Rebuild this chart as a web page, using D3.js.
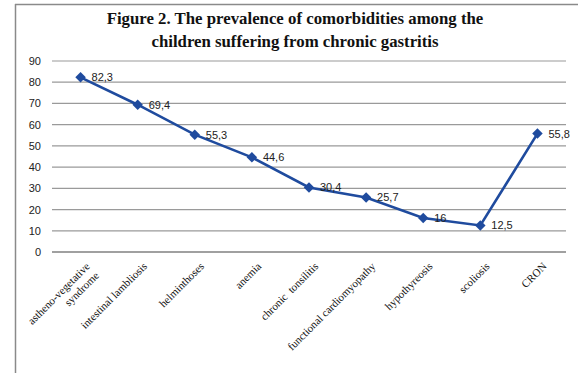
<!DOCTYPE html>
<html>
<head>
<meta charset="utf-8">
<script src="https://cdn.jsdelivr.net/npm/d3@7"></script>
<style>
  body { margin: 0; background: #fff; }
  svg { display: block; }
</style>
</head>
<body>
<div id="chart"></div>
<script>
// chart data
const categories = [
  ["astheno-vegetative", "syndrome"],
  ["intestinal lambliosis"],
  ["helminthoses"],
  ["anemia"],
  ["chronic  tonsilitis"],
  ["functional cardiomyopathy"],
  ["hypothyreosis"],
  ["scoliosis"],
  ["CRON"]
];
const values = [82.3, 69.4, 55.3, 44.6, 30.4, 25.7, 16, 12.5, 55.8];
const valueLabels = ["82,3", "69,4", "55,3", "44,6", "30,4", "25,7", "16", "12,5", "55,8"];
const yTicks = [0, 10, 20, 30, 40, 50, 60, 70, 80, 90];
const titleLines = [
  "Figure 2. The prevalence of comorbidities among the",
  "children suffering from chronic gastritis"
];

const W = 578, H = 373;
const plot = { left: 52, right: 566, top: 61, bottom: 252 };

const svg = d3.select("#chart").append("svg")
  .attr("width", W).attr("height", H);

// outer frame (top and left edges visible)
svg.append("line").attr("x1", 15).attr("x2", W).attr("y1", 4.5).attr("y2", 4.5)
  .attr("stroke", "#8a8a8a").attr("stroke-width", 1.5);
svg.append("line").attr("x1", 15.5).attr("x2", 15.5).attr("y1", 4).attr("y2", H)
  .attr("stroke", "#8a8a8a").attr("stroke-width", 1.5);

// title
svg.append("g").selectAll("text")
  .data(titleLines)
  .enter().append("text")
  .attr("x", 295)
  .attr("y", (d, i) => 24 + i * 23)
  .attr("text-anchor", "middle")
  .style("font-family", "'Liberation Serif', 'Times New Roman', serif")
  .style("font-weight", "bold")
  .style("font-size", "16.8px")
  .attr("fill", "#111")
  .text(d => d);

// scales
const xScale = d3.scaleBand()
  .domain(d3.range(categories.length))
  .range([plot.left, plot.right]);

const yScale = d3.scaleLinear()
  .domain([0, 90])
  .range([plot.bottom, plot.top]);

// grid lines
svg.append("g").selectAll("line")
  .data(yTicks.filter(d => d > 0))
  .enter().append("line")
  .attr("x1", plot.left).attr("x2", plot.right)
  .attr("y1", d => yScale(d)).attr("y2", d => yScale(d))
  .attr("stroke", "#9a9a9a").attr("stroke-width", 1.2);

// y axis
const yAxis = d3.axisLeft(yScale).tickValues(yTicks).tickSize(0).tickPadding(11);
const yG = svg.append("g")
  .attr("transform", `translate(${plot.left},0)`)
  .call(yAxis);
yG.select(".domain").remove();
yG.selectAll("text")
  .style("font-family", "'Liberation Sans', Arial, sans-serif")
  .style("font-size", "11px")
  .attr("fill", "#222");

// x axis line
svg.append("line")
  .attr("x1", plot.left).attr("x2", plot.right)
  .attr("y1", plot.bottom).attr("y2", plot.bottom)
  .attr("stroke", "#a0a0a0").attr("stroke-width", 2);

// x labels, rotated
const xl = svg.append("g").selectAll("text")
  .data(categories)
  .enter().append("text")
  .attr("transform", (d, i) => `translate(${xScale(i) + xScale.bandwidth() / 2 + 10},${plot.bottom + 15}) rotate(-45)`)
  .attr("text-anchor", "end")
  .style("font-family", "'Liberation Serif', 'Times New Roman', serif")
  .style("font-size", "11px")
  .style("white-space", "pre")
  .attr("fill", "#111");
xl.selectAll("tspan")
  .data(d => d)
  .enter().append("tspan")
  .attr("x", 0)
  .attr("dy", (d, i) => i === 0 ? 0 : 13)
  .text(d => d);

// line
const cx = i => xScale(i) + xScale.bandwidth() / 2;
const line = d3.line()
  .x((d, i) => cx(i))
  .y(d => yScale(d));

svg.append("path")
  .datum(values)
  .attr("d", line)
  .attr("fill", "none")
  .attr("stroke", "#1f4b9e")
  .attr("stroke-width", 2.6);

// diamond markers
svg.append("g").selectAll("path")
  .data(values)
  .enter().append("path")
  .attr("d", d3.symbol().type(d3.symbolDiamond2).size(70))
  .attr("transform", (d, i) => `translate(${cx(i)},${yScale(d)})`)
  .attr("fill", "#1f4b9e");

// value labels
svg.append("g").selectAll("text")
  .data(values)
  .enter().append("text")
  .attr("x", (d, i) => cx(i) + 11)
  .attr("y", d => yScale(d) + 4)
  .style("font-family", "'Liberation Sans', Arial, sans-serif")
  .style("font-size", "11px")
  .attr("fill", "#222")
  .text((d, i) => valueLabels[i]);
</script>
</body>
</html>
